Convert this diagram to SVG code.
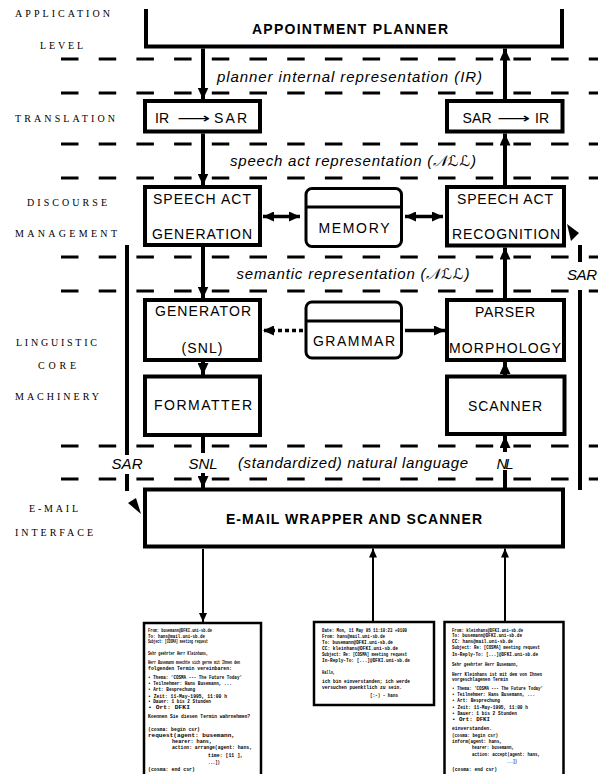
<svg xmlns="http://www.w3.org/2000/svg" width="598" height="774" viewBox="0 0 598 774">
<style>
.lvl{font-family:"Liberation Serif","DejaVu Serif",serif;font-size:10px;fill:#000;text-anchor:middle}
.box{fill:#fff;stroke:#000;stroke-width:4}
.mem{fill:#fff;stroke:#000;stroke-width:3}
.lbl{font-family:"Liberation Sans","DejaVu Sans",sans-serif;font-size:14px;fill:#000;text-anchor:middle}
.lbs{font-family:"Liberation Sans","DejaVu Sans",sans-serif;font-size:14px;fill:#000}
.arr{font-family:"DejaVu Sans",sans-serif;font-size:14px;fill:#000}
.big{font-family:"Liberation Sans","DejaVu Sans",sans-serif;font-size:14px;font-weight:bold;fill:#000;text-anchor:middle}
.it{font-family:"Liberation Sans","DejaVu Sans",sans-serif;font-size:15px;font-style:italic;fill:#000;text-anchor:middle}
.dash{stroke:#000;stroke-width:3;stroke-dasharray:17.5 20.2;fill:none}
.v{stroke:#000;stroke-width:4;fill:none}
.h{stroke:#000;stroke-width:3.5;fill:none}
.thin{stroke:#000;stroke-width:2;fill:none}
.doc{fill:#fff;stroke:#000;stroke-width:2.5}
.tt{font-family:"Liberation Mono","DejaVu Sans Mono",monospace;font-size:4.8px;font-weight:bold;fill:#000}
</style>
<defs>
<marker id="ah" markerUnits="userSpaceOnUse" markerWidth="12" markerHeight="11" refX="12" refY="5.5" orient="auto">
<path d="M0,0 L12,5.5 L0,11 z" fill="#000"/>
</marker>
<marker id="ahs" markerUnits="userSpaceOnUse" markerWidth="11" markerHeight="10" refX="11" refY="5" orient="auto">
<path d="M0,0 L11,5 L0,10 z" fill="#000"/>
</marker>
<marker id="ahsr" markerUnits="userSpaceOnUse" markerWidth="11" markerHeight="10" refX="0" refY="5" orient="auto">
<path d="M11,0 L0,5 L11,10 z" fill="#000"/>
</marker>
<marker id="aht" markerUnits="userSpaceOnUse" markerWidth="9" markerHeight="8" refX="9" refY="4" orient="auto">
<path d="M0,0 L9,4 L0,8 z" fill="#000"/>
</marker>
</defs>

<g id="levels">
<text class="lvl" x="62.5" y="17" textLength="95">APPLICATION</text>
<text class="lvl" x="61.5" y="49" textLength="43">LEVEL</text>
<text class="lvl" x="65" y="122" textLength="100">TRANSLATION</text>
<text class="lvl" x="67" y="206" textLength="80">DISCOURSE</text>
<text class="lvl" x="66" y="236.5" textLength="102">MANAGEMENT</text>
<text class="lvl" x="56.5" y="346" textLength="81">LINGUISTIC</text>
<text class="lvl" x="57" y="369" textLength="38">CORE</text>
<text class="lvl" x="57" y="400" textLength="84">MACHINERY</text>
<text class="lvl" x="53.5" y="511.5" textLength="49">E-MAIL</text>
<text class="lvl" x="54" y="535.5" textLength="78">INTERFACE</text>
</g>

<g id="separators">
<line class="dash" x1="61" y1="59" x2="598" y2="59"/>
<line class="dash" x1="61" y1="93" x2="598" y2="93"/>
<line class="dash" x1="61" y1="144" x2="598" y2="144"/>
<line class="dash" x1="61" y1="178" x2="598" y2="178"/>
<line class="dash" x1="61" y1="257" x2="598" y2="257"/>
<line class="dash" x1="61" y1="291" x2="598" y2="291"/>
<line class="dash" x1="61" y1="446" x2="598" y2="446"/>
<line class="dash" x1="61" y1="479" x2="598" y2="479"/>
<text class="it" x="349.5" y="82" textLength="265">planner internal representation (IR)</text>
<text class="it" x="353" y="166" textLength="246">speech act representation (<tspan font-family="DejaVu Sans, serif">𝒩ℒℒ</tspan>)</text>
<text class="it" x="353" y="279" textLength="233">semantic representation (<tspan font-family="DejaVu Sans, serif">𝒩ℒℒ</tspan>)</text>
<text class="it" x="353" y="468" textLength="230">(standardized) natural language</text>
</g>

<g id="planner">
<path class="box" d="M146,9 V46.5 H562 V9" style="fill:none"/>
<text class="big" x="350" y="34" textLength="196">APPOINTMENT PLANNER</text>
</g>
<g id="ir2sar">
<rect class="box" x="145" y="101" width="115" height="30.5"/>
<text class="lbs" x="155" y="123">IR</text>
<text class="arr" x="177" y="123" textLength="33" lengthAdjust="spacingAndGlyphs">⟶</text>
<text class="lbs" x="214" y="123" textLength="33">SAR</text>
</g>
<g id="sar2ir">
<rect class="box" x="447" y="101" width="115.5" height="30.5"/>
<text class="lbs" x="462.5" y="123" textLength="29">SAR</text>
<text class="arr" x="497" y="123" textLength="33" lengthAdjust="spacingAndGlyphs">⟶</text>
<text class="lbs" x="535" y="123">IR</text>
</g>
<g id="sageneration">
<rect class="box" x="145" y="187" width="115" height="58"/>
<text class="lbl" x="202" y="204" textLength="98">SPEECH ACT</text>
<text class="lbl" x="202" y="239" textLength="100">GENERATION</text>
</g>
<g id="memory">
<rect class="mem" x="306" y="188.5" width="95.5" height="58" rx="6"/>
<line x1="306" y1="207" x2="401.5" y2="207" stroke="#000" stroke-width="3"/>
<text class="lbl" x="354" y="233" textLength="71">MEMORY</text>
</g>
<g id="sarecognition">
<rect class="box" x="447" y="187" width="117" height="58.5"/>
<text class="lbl" x="505" y="204" textLength="96">SPEECH ACT</text>
<text class="lbl" x="506" y="239" textLength="108">RECOGNITION</text>
</g>
<g id="generator">
<rect class="box" x="145" y="300" width="115" height="60"/>
<text class="lbl" x="203" y="316" textLength="96">GENERATOR</text>
<text class="lbl" x="202" y="353" textLength="41">(SNL)</text>
</g>
<g id="grammar">
<rect class="mem" x="306" y="302" width="95.5" height="56" rx="6"/>
<line x1="306" y1="321" x2="401.5" y2="321" stroke="#000" stroke-width="3"/>
<text class="lbl" x="354" y="346" textLength="82">GRAMMAR</text>
</g>
<g id="parser">
<rect class="box" x="447" y="300" width="117" height="60"/>
<text class="lbl" x="505" y="317" textLength="60">PARSER</text>
<text class="lbl" x="505" y="353" textLength="112">MORPHOLOGY</text>
</g>
<g id="formatter">
<rect class="box" x="145" y="376.5" width="115" height="58.5"/>
<text class="lbl" x="203" y="410" textLength="98">FORMATTER</text>
</g>
<g id="scanner">
<rect class="box" x="447" y="376.5" width="117.5" height="57.5"/>
<text class="lbl" x="505" y="411" textLength="74">SCANNER</text>
</g>
<g id="emailwrapper">
<rect class="box" x="145" y="489.5" width="418" height="57"/>
<text class="big" x="354" y="524" textLength="256">E-MAIL WRAPPER AND SCANNER</text>
</g>

<g id="connectors">
<line class="v" x1="203" y1="48.5" x2="203" y2="99.5" marker-end="url(#ah)"/>
<line class="v" x1="203" y1="133.5" x2="203" y2="185.5" marker-end="url(#ah)"/>
<line class="v" x1="203" y1="247" x2="203" y2="298.5" marker-end="url(#ah)"/>
<line class="v" x1="203" y1="362" x2="203" y2="375" marker-end="url(#ah)"/>
<line class="v" x1="203" y1="437" x2="203" y2="453"/>
<line class="v" x1="203" y1="473" x2="203" y2="488" marker-end="url(#ah)"/>
<line class="v" x1="505" y1="99.5" x2="505" y2="48.5" marker-end="url(#ah)"/>
<line class="v" x1="505" y1="185.5" x2="505" y2="133.5" marker-end="url(#ah)"/>
<line class="v" x1="505" y1="298.5" x2="505" y2="247.5" marker-end="url(#ah)"/>
<line class="v" x1="505" y1="375" x2="505" y2="362" marker-end="url(#ah)"/>
<line class="v" x1="505" y1="452" x2="505" y2="436" marker-end="url(#ah)"/>
<line class="v" x1="505" y1="470" x2="505" y2="488"/>
<line class="h" x1="263" y1="216.5" x2="300" y2="216.5" marker-start="url(#ahsr)" marker-end="url(#ahs)"/>
<line class="h" x1="405" y1="216.5" x2="443" y2="216.5" marker-start="url(#ahsr)" marker-end="url(#ahs)"/>
<line class="h" x1="303" y1="330.5" x2="263" y2="330.5" stroke-dasharray="4 3" marker-end="url(#ahs)"/>
<line class="h" x1="405" y1="330.5" x2="445" y2="330.5" marker-end="url(#ahs)"/>
<line class="v" x1="127" y1="245" x2="127" y2="455"/>
<line class="v" x1="127" y1="474" x2="127" y2="491"/>
<polygon points="128,503 136,498 141,514" fill="#000"/>
<line class="v" x1="580" y1="245" x2="580" y2="262"/>
<line class="v" x1="580" y1="290" x2="580" y2="490"/>
<polygon points="567,224 579,233 571,241" fill="#000"/>
<text class="it" x="127" y="469" textLength="31">SAR</text>
<text class="it" x="203" y="469" textLength="29">SNL</text>
<text class="it" x="505" y="469" textLength="17">NL</text>
<text class="it" x="582" y="280" textLength="30">SAR</text>
<line class="thin" x1="203" y1="549" x2="203" y2="622" marker-end="url(#aht)"/>
<line class="thin" x1="373" y1="621" x2="373" y2="548.5" marker-end="url(#aht)"/>
<line class="thin" x1="505" y1="621" x2="505" y2="548.5" marker-end="url(#aht)"/>
</g>

<g id="mail1">
<rect class="doc" x="144" y="623" width="117" height="170"/>
<text class="tt" x="148" y="632" textLength="64" lengthAdjust="spacingAndGlyphs">From: busemann@DFKI.uni-sb.de</text>
<text class="tt" x="148" y="637.5" textLength="57" lengthAdjust="spacingAndGlyphs">To: hans@mail.uni-sb.de</text>
<text class="tt" x="148" y="643" textLength="60" lengthAdjust="spacingAndGlyphs">Subject: [COSMA] meeting request</text>
<text class="tt" x="148" y="654.5" textLength="60" lengthAdjust="spacingAndGlyphs">Sehr geehrter Herr Kleinhans,</text>
<text class="tt" x="148" y="664" textLength="92" lengthAdjust="spacingAndGlyphs">Herr Busemann moechte sich gerne mit Ihnen den</text>
<text class="tt" x="148" y="669.5" textLength="84" lengthAdjust="spacingAndGlyphs">folgenden Termin vereinbaren:</text>
<text class="tt" x="148" y="678.5" textLength="94" lengthAdjust="spacingAndGlyphs">• Thema: 'COSMA --- The Future Today'</text>
<text class="tt" x="148" y="685" textLength="84" lengthAdjust="spacingAndGlyphs">• Teilnehmer: Hans Busemann, ...</text>
<text class="tt" x="148" y="691" textLength="47" lengthAdjust="spacingAndGlyphs">• Art: Besprechung</text>
<text class="tt" x="148" y="697.5" textLength="79" lengthAdjust="spacingAndGlyphs">• Zeit: 11-May-1995, 11:00 h</text>
<text class="tt" x="148" y="703" textLength="63" lengthAdjust="spacingAndGlyphs">• Dauer: 1 bis 2 Stunden</text>
<text class="tt" x="148" y="709" textLength="42" lengthAdjust="spacingAndGlyphs">• Ort: DFKI</text>
<text class="tt" x="148" y="717.5" textLength="102" lengthAdjust="spacingAndGlyphs">Koennen Sie diesen Termin wahrnehmen?</text>
<text class="tt" x="148" y="730.5" textLength="52" lengthAdjust="spacingAndGlyphs">(cosma: begin csr)</text>
<text class="tt" x="148" y="736.5" textLength="87" lengthAdjust="spacingAndGlyphs">request(agent: busemann,</text>
<text class="tt" x="172" y="743" textLength="40" lengthAdjust="spacingAndGlyphs">hearer: hans,</text>
<text class="tt" x="172" y="749" textLength="80" lengthAdjust="spacingAndGlyphs">action: arrange(agent: hans,</text>
<text class="tt" x="208" y="756.5" textLength="35" lengthAdjust="spacingAndGlyphs">time: [11 ],</text>
<text class="tt" x="208" y="763.5" textLength="12" lengthAdjust="spacingAndGlyphs">...])</text>
<text class="tt" x="148" y="770.5" textLength="47" lengthAdjust="spacingAndGlyphs">(cosma: end csr)</text>
</g>

<g id="mail2">
<rect class="doc" x="314" y="622" width="120" height="83"/>
<text class="tt" x="322" y="631.5" textLength="85" lengthAdjust="spacingAndGlyphs">Date: Mon, 11 May 95 11:10:23 +0100</text>
<text class="tt" x="322" y="638" textLength="63" lengthAdjust="spacingAndGlyphs">From: hans@mail.uni-sb.de</text>
<text class="tt" x="322" y="643.5" textLength="71" lengthAdjust="spacingAndGlyphs">To: busemann@DFKI.uni-sb.de</text>
<text class="tt" x="322" y="649.5" textLength="76" lengthAdjust="spacingAndGlyphs">CC: kleinhans@DFKI.uni-sb.de</text>
<text class="tt" x="322" y="655.5" textLength="85" lengthAdjust="spacingAndGlyphs">Subject: Re: [COSMA] meeting request</text>
<text class="tt" x="322" y="661.5" textLength="88" lengthAdjust="spacingAndGlyphs">In-Reply-To: [...]@DFKI.uni-sb.de</text>
<text class="tt" x="322" y="673.5" textLength="13" lengthAdjust="spacingAndGlyphs">Hallo,</text>
<text class="tt" x="322" y="683" textLength="88" lengthAdjust="spacingAndGlyphs">ich bin einverstanden; ich werde</text>
<text class="tt" x="322" y="689" textLength="80" lengthAdjust="spacingAndGlyphs">versuchen puenktlich zu sein.</text>
<text class="tt" x="370" y="697" textLength="28" lengthAdjust="spacingAndGlyphs">[:-)  - hans</text>
</g>

<g id="mail3">
<rect class="doc" x="444.5" y="622" width="119" height="170"/>
<text class="tt" x="452" y="631.5" textLength="71" lengthAdjust="spacingAndGlyphs">From: kleinhans@DFKI.uni-sb.de</text>
<text class="tt" x="452" y="637" textLength="70" lengthAdjust="spacingAndGlyphs">To: busemann@DFKI.uni-sb.de</text>
<text class="tt" x="452" y="643" textLength="61" lengthAdjust="spacingAndGlyphs">CC: hans@mail.uni-sb.de</text>
<text class="tt" x="452" y="648.5" textLength="88" lengthAdjust="spacingAndGlyphs">Subject: Re: [COSMA] meeting request</text>
<text class="tt" x="452" y="655.5" textLength="86" lengthAdjust="spacingAndGlyphs">In-Reply-To: [...]@DFKI.uni-sb.de</text>
<text class="tt" x="452" y="665.5" textLength="66" lengthAdjust="spacingAndGlyphs">Sehr geehrter Herr Busemann,</text>
<text class="tt" x="452" y="675.5" textLength="90" lengthAdjust="spacingAndGlyphs">Herr Kleinhans ist mit dem von Ihnen</text>
<text class="tt" x="452" y="681" textLength="56" lengthAdjust="spacingAndGlyphs">vorgeschlagenen Termin</text>
<text class="tt" x="452" y="689.5" textLength="91" lengthAdjust="spacingAndGlyphs">• Thema: 'COSMA --- The Future Today'</text>
<text class="tt" x="452" y="696" textLength="83" lengthAdjust="spacingAndGlyphs">• Teilnehmer: Hans Busemann, ...</text>
<text class="tt" x="452" y="702" textLength="48" lengthAdjust="spacingAndGlyphs">• Art: Besprechung</text>
<text class="tt" x="452" y="708.5" textLength="76" lengthAdjust="spacingAndGlyphs">• Zeit: 11-May-1995, 11:00 h</text>
<text class="tt" x="452" y="715" textLength="65" lengthAdjust="spacingAndGlyphs">• Dauer: 1 bis 2 Stunden</text>
<text class="tt" x="452" y="721" textLength="38" lengthAdjust="spacingAndGlyphs">• Ort: DFKI</text>
<text class="tt" x="452" y="729.5" textLength="40" lengthAdjust="spacingAndGlyphs">einverstanden.</text>
<text class="tt" x="452" y="736.5" textLength="46" lengthAdjust="spacingAndGlyphs">(cosma: begin csr)</text>
<text class="tt" x="452" y="743" textLength="50" lengthAdjust="spacingAndGlyphs">inform(agent: hans,</text>
<text class="tt" x="472" y="749" textLength="42" lengthAdjust="spacingAndGlyphs">hearer: busemann,</text>
<text class="tt" x="472" y="755.5" textLength="68" lengthAdjust="spacingAndGlyphs">action: accept(agent: hans,</text>
<text class="tt" x="507" y="763" textLength="10" lengthAdjust="spacingAndGlyphs">...])</text>
<text class="tt" x="452" y="770.5" textLength="45" lengthAdjust="spacingAndGlyphs">(cosma: end csr)</text>
</g>
</svg>
